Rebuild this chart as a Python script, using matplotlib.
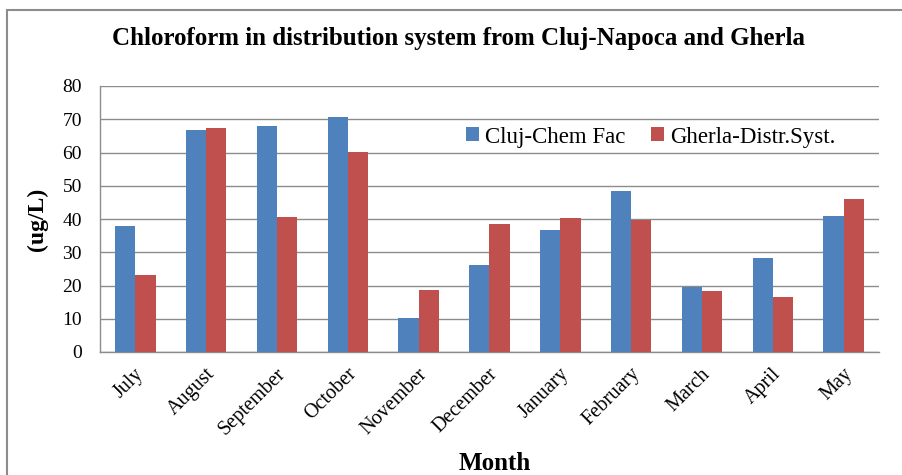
import matplotlib
matplotlib.use("Agg")
import matplotlib.pyplot as plt
import numpy as np
from matplotlib.patches import Rectangle
from matplotlib.transforms import ScaledTranslation

months = ["July", "August", "September", "October", "November", "December",
          "January", "February", "March", "April", "May"]
cluj = [37.9, 66.9, 67.9, 70.8, 10.1, 26.1, 36.8, 48.3, 19.6, 28.2, 40.9]
gherla = [23.1, 67.5, 40.6, 60.2, 18.5, 38.6, 40.3, 39.8, 18.2, 16.4, 46.0]
series_names = ["Cluj-Chem Fac", "Gherla-Distr.Syst."]
yticks = [0, 10, 20, 30, 40, 50, 60, 70, 80]

plt.rcParams["font.family"] = ["Liberation Serif", "DejaVu Serif"]

fig = plt.figure(figsize=(9.03, 4.75), dpi=100)
fig.patch.set_facecolor("white")

# outer chart frame
fig.add_artist(Rectangle((7 / 903, -0.05), 1.0, 1 - 10 / 475 + 0.05,
                         transform=fig.transFigure, fill=False,
                         edgecolor="#8c8c8c", linewidth=1.5))

ax = fig.add_axes([100 / 903, 1 - 352 / 475, 779 / 903, 266 / 475])

x = np.arange(len(months))
w = 1 / 3.5
ax.bar(x - w / 2, cluj, width=w, color="#4F81BD", label=series_names[0], zorder=3)
ax.bar(x + w / 2, gherla, width=w, color="#C0504D", label=series_names[1], zorder=3)

ax.set_xlim(-0.5, len(months) - 0.5)
ax.set_ylim(0, 80)
ax.set_yticks(yticks)
ax.set_yticklabels([str(t) for t in yticks], fontsize=14)
ax.tick_params(axis="y", length=0, pad=13)
ax.set_xticks(x)
ax.set_xticklabels(months, rotation=45, ha="right", va="top",
                   rotation_mode="anchor", fontsize=14.5)
ax.tick_params(axis="x", length=0, pad=9)
shift = ScaledTranslation(-1 / 100, 0, fig.dpi_scale_trans)
for lbl in ax.get_xticklabels():
    lbl.set_transform(lbl.get_transform() + shift)

ax.grid(axis="y", color="#8c8c8c", linewidth=1, zorder=0)
for s in ["top", "right"]:
    ax.spines[s].set_visible(False)
for s in ["left", "bottom"]:
    ax.spines[s].set_color("#8c8c8c")
    ax.spines[s].set_linewidth(1)

ax.set_ylabel("(ug/L)", fontsize=17, fontweight="bold", labelpad=10)
fig.text(495 / 903, 1 - 463 / 475, "Month", fontsize=18, fontweight="bold",
         ha="center", va="center")
fig.text(459 / 903, 1 - 38 / 475,
         "Chloroform in distribution system from Cluj-Napoca and Gherla",
         fontsize=18, fontweight="bold", ha="center", va="center")

ax.legend(loc="center left", bbox_to_anchor=((466 - 100) / 779, (352 - 137) / 266),
          ncol=2, frameon=False, fontsize=16.5, handlelength=0.55, handleheight=0.55,
          handletextpad=0.3, columnspacing=1.1, borderaxespad=0, borderpad=0)

fig.savefig("out.png", dpi=100, facecolor="white")
